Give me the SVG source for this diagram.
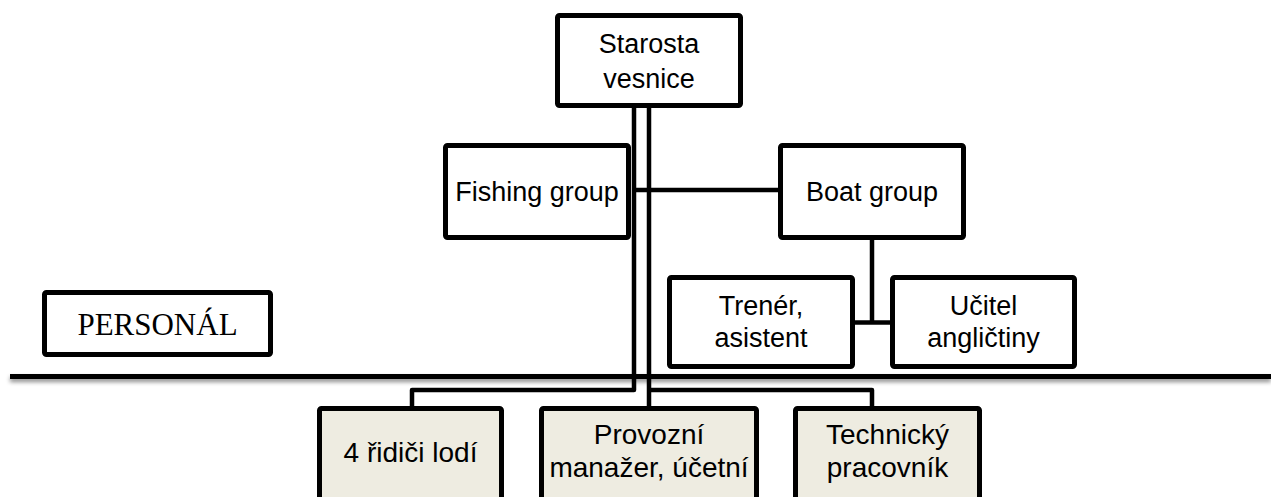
<svg xmlns="http://www.w3.org/2000/svg" width="1271" height="497" viewBox="0 0 1271 497">
<defs>
<style>
.box{fill:#ffffff;stroke:#000;stroke-width:5;}
.pbox{fill:#EEECE1;stroke:#000;stroke-width:5;}
.t{font-family:"Liberation Sans",Arial,sans-serif;font-size:27px;fill:#000;text-anchor:middle;}
.tb{font-family:"Liberation Sans",Arial,sans-serif;font-size:28px;fill:#000;text-anchor:middle;}
.tr{font-family:"Liberation Serif","Times New Roman",serif;font-size:31px;fill:#000;text-anchor:middle;}
.c{fill:none;stroke:#000;stroke-width:4.5;stroke-linejoin:round;}
</style>
<filter id="sh" filterUnits="userSpaceOnUse" x="0" y="360" width="1271" height="40">
<feDropShadow dx="0" dy="3" stdDeviation="2" flood-color="#000" flood-opacity="0.45"/>
</filter>
</defs>
<rect width="1271" height="497" fill="#ffffff"/>
<g id="divider">
<rect x="10" y="374" width="1261" height="5" fill="#000" filter="url(#sh)"/>
</g>
<g id="connectors">
<path class="c" d="M634 108 V390 H412 V406"/>
<path class="c" d="M649 108 V406"/>
<path class="c" d="M649 390 H872 V406"/>
<path class="c" d="M634 190 H778"/>
<path class="c" d="M872 240 V322.5"/>
<path class="c" d="M855 322.5 H890"/>
</g>
<g id="starosta">
<rect class="box" x="557.5" y="15.5" width="183" height="90" rx="2"/>
<text class="t" x="649" y="53">Starosta</text>
<text class="t" x="649" y="88">vesnice</text>
</g>
<g id="fishing">
<rect class="box" x="445.5" y="145.5" width="183" height="92" rx="2"/>
<text class="t" x="537" y="201">Fishing group</text>
</g>
<g id="boat">
<rect class="box" x="780.5" y="145.5" width="183" height="92" rx="2"/>
<text class="t" x="872" y="201">Boat group</text>
</g>
<g id="trener">
<rect class="box" x="669.5" y="277.5" width="183" height="89" rx="2"/>
<text class="t" x="761" y="315">Trenér,</text>
<text class="t" x="761" y="347">asistent</text>
</g>
<g id="ucitel">
<rect class="box" x="892.5" y="277.5" width="182" height="89" rx="2"/>
<text class="t" x="983.5" y="315">Učitel</text>
<text class="t" x="983.5" y="347">angličtiny</text>
</g>
<g id="personal">
<rect class="box" x="44.5" y="292.5" width="226" height="62" rx="2"/>
<text class="tr" x="157.5" y="335">PERSONÁL</text>
</g>
<g id="ridici">
<rect class="pbox" x="319.5" y="408.5" width="182" height="120" rx="2"/>
<text class="tb" x="410.5" y="462">4 řidiči lodí</text>
</g>
<g id="provozni">
<rect class="pbox" x="541.5" y="408.5" width="215" height="120" rx="2"/>
<text class="tb" x="649" y="444">Provozní</text>
<text class="tb" x="649" y="477">manažer, účetní</text>
</g>
<g id="technicky">
<rect class="pbox" x="795.5" y="408.5" width="184" height="120" rx="2"/>
<text class="tb" x="887.5" y="444">Technický</text>
<text class="tb" x="887.5" y="477">pracovník</text>
</g>
</svg>
